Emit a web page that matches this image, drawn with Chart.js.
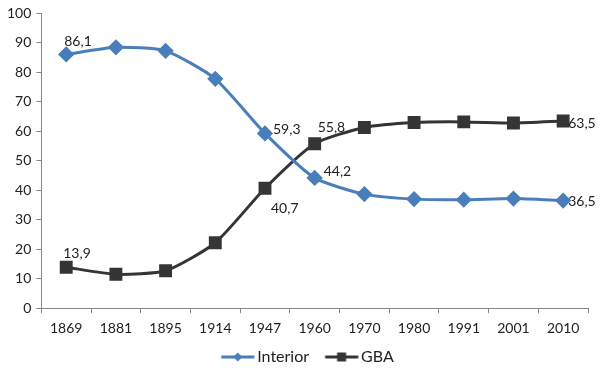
<!DOCTYPE html>
<html>
<head>
<meta charset="utf-8">
<script src="https://cdn.jsdelivr.net/npm/chart.js@4"></script>
<style>
  html, body { margin: 0; padding: 0; background: #fff; }
  #wrap { width: 600px; height: 375px; }
</style>
</head>
<body>
<div id="wrap"><canvas id="chart"></canvas></div>
<script>
// data
var years = ['1869', '1881', '1895', '1914', '1947', '1960', '1970', '1980', '1991', '2001', '2010'];
var interior = [86.1, 88.5, 87.3, 77.8, 59.3, 44.2, 38.7, 37.0, 36.8, 37.2, 36.5];
var gba = [13.9, 11.5, 12.7, 22.2, 40.7, 55.8, 61.3, 63.0, 63.2, 62.8, 63.5];
var yTicks = [0, 10, 20, 30, 40, 50, 60, 70, 80, 90, 100];

var blue = '#4a7ebb';
var dark = '#353535';
var font = 'Lato, "Open Sans", sans-serif';

// which points get a value label, and where it sits relative to the point
var labelSpots = [
  { ds: 0, i: 0, dx: -2, dy: -13 },
  { ds: 0, i: 4, dx: 8, dy: -4 },
  { ds: 0, i: 5, dx: 9, dy: -6 },
  { ds: 0, i: 10, dx: 5, dy: 1 },
  { ds: 1, i: 0, dx: -3, dy: -14 },
  { ds: 1, i: 4, dx: 6, dy: 20 },
  { ds: 1, i: 5, dx: 3, dy: -16 },
  { ds: 1, i: 10, dx: 5, dy: 2 }
];

// legend image: line with the marker in the middle, shifted right inside the canvas
// so the text sits close to it like in excel
function legendIcon(color, shape) {
  var c = document.createElement('canvas');
  c.width = 50; c.height = 14;
  var g = c.getContext('2d');
  var a = 16.5, b = 49.5, m = (a + b) / 2;
  g.strokeStyle = color; g.lineWidth = 3;
  g.beginPath(); g.moveTo(a, 7); g.lineTo(b, 7); g.stroke();
  g.fillStyle = color;
  g.beginPath();
  if (shape == 'diamond') {
    g.moveTo(m, 2.5); g.lineTo(m + 4.5, 7); g.lineTo(m, 11.5); g.lineTo(m - 4.5, 7);
  } else {
    g.rect(m - 4.5, 2.5, 9, 9);
  }
  g.closePath(); g.fill();
  return c;
}

var valueLabels = {
  id: 'valueLabels',
  afterLayout: function (chart) {
    // excel puts the legend a bit right of the canvas centre
    chart.legend.left += 7;
    chart.legend.right += 7;
  },
  afterDatasetsDraw: function (chart) {
    var ctx = chart.ctx;
    ctx.save();
    ctx.font = '14px ' + font;
    ctx.fillStyle = '#222';
    ctx.textAlign = 'left';
    ctx.textBaseline = 'middle';
    labelSpots.forEach(function (s) {
      var pt = chart.getDatasetMeta(s.ds).data[s.i];
      var v = chart.data.datasets[s.ds].data[s.i];
      ctx.fillText(String(v).replace('.', ','), pt.x + s.dx, pt.y + s.dy);
    });
    ctx.restore();
  }
};

var ctx = document.getElementById('chart').getContext('2d');
new Chart(ctx, {
  type: 'line',
  data: {
    labels: years,
    datasets: [{
      label: 'Interior',
      data: interior,
      borderColor: blue,
      backgroundColor: blue,
      borderWidth: 3,
      pointStyle: 'rectRot',
      pointRadius: 6,
      pointHoverRadius: 6,
      tension: 0.2,
      legendIcon: legendIcon(blue, 'diamond')
    }, {
      label: 'GBA',
      data: gba,
      borderColor: dark,
      backgroundColor: dark,
      borderWidth: 3,
      pointStyle: 'rect',
      pointRadius: 7,
      pointHoverRadius: 7,
      tension: 0.2,
      legendIcon: legendIcon(dark, 'square')
    }]
  },
  options: {
    responsive: true,
    maintainAspectRatio: false,
    animation: false,
    layout: { padding: { left: 2, right: 12, top: 0, bottom: 0 } },
    scales: {
      x: {
        offset: true,
        grid: { offset: true, drawOnChartArea: false, tickLength: 5, color: '#888' },
        border: { color: '#888' },
        ticks: { color: '#222', font: { family: font, size: 14 }, maxRotation: 0, padding: 7 }
      },
      y: {
        min: 0,
        max: 100,
        afterBuildTicks: function (axis) {
          axis.ticks = yTicks.map(function (v) { return { value: v }; });
        },
        grid: { drawOnChartArea: false, tickLength: 5, color: '#888' },
        border: { color: '#888' },
        ticks: { color: '#222', font: { family: font, size: 14 }, padding: 5 }
      }
    },
    plugins: {
      tooltip: { enabled: false },
      legend: {
        position: 'bottom',
        labels: {
          usePointStyle: true,
          pointStyleWidth: 39,
          color: '#222',
          font: { family: font, size: 16 },
          padding: 5,
          generateLabels: function (chart) {
            return chart.data.datasets.map(function (d, i) {
              return {
                text: d.label,
                pointStyle: d.legendIcon,
                fillStyle: d.borderColor,
                strokeStyle: d.borderColor,
                lineWidth: 0,
                fontColor: '#222',
                datasetIndex: i,
                hidden: false
              };
            });
          }
        }
      }
    }
  },
  plugins: [valueLabels]
});
</script>
</body>
</html>
